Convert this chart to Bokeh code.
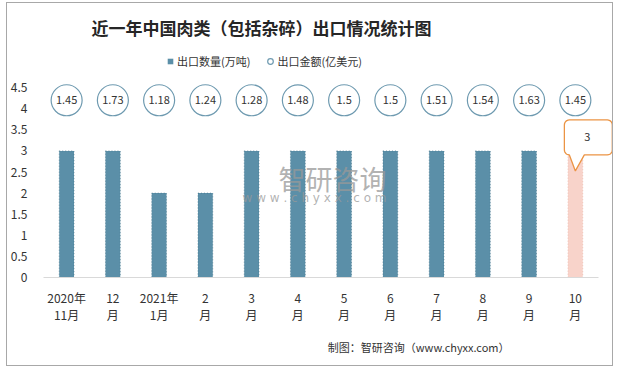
import math
from bokeh.plotting import figure
from bokeh.models import Range1d, FixedTicker, Label, Legend, LegendItem, ColumnDataSource, Title
from bokeh.embed import file_html
from bokeh.resources import INLINE
from bokeh.core.properties import value

# ---- data ----
months = ["2020年\n11月", "12\n月", "2021年\n1月", "2\n月", "3\n月", "4\n月",
          "5\n月", "6\n月", "7\n月", "8\n月", "9\n月", "10\n月"]
volume = [3, 3, 2, 2, 3, 3, 3, 3, 3, 3, 3, 3]          # 出口数量(万吨)
amount = [1.45, 1.73, 1.18, 1.24, 1.28, 1.48, 1.5, 1.5, 1.51, 1.54, 1.63, 1.45]  # 出口金额(亿美元)
yticks = [0, 0.5, 1, 1.5, 2, 2.5, 3, 3.5, 4, 4.5]

title_text = "近一年中国肉类（包括杂碎）出口情况统计图"
legend_bar = "出口数量(万吨)"
legend_amt = "出口金额(亿美元)"
source_text = "制图：智研咨询（www.chyxx.com）"

# ---- styling ----
BLUE = "#5B8FA8"
BLUE_EDGE = "#3f6f86"
PINK = "#F8D3CA"
PINK_EDGE = "#e9b0a2"
ORANGE = "#EB9444"
RING = "#6E9AB0"
FONT = "Noto Sans CJK SC"
TXT = "#333333"

n = len(months)
xs = list(range(n))
colors = [BLUE] * (n - 1) + [PINK]
edges = [BLUE_EDGE] * (n - 1) + [PINK_EDGE]
AMT_LEVEL = 4.2  # row on which the amount bubbles sit

FRAME_W, FRAME_H = 570, 274
PX_X = 46.33
PX_Y = 42.2
X_END = -0.5 + FRAME_W / PX_X
Y_END = FRAME_H / PX_Y   # frame reaches the top of the canvas (room for title/legend)

src = ColumnDataSource(dict(x=xs, volume=volume, color=colors, edge=edges,
                            lvl=[AMT_LEVEL] * n, amt=[str(a) for a in amount]))

p = figure(width=605, height=362, x_range=Range1d(-0.5, X_END), y_range=Range1d(0, Y_END),
           output_backend="svg", toolbar_location=None, title_location=None,
           min_border_left=35, min_border_right=0, min_border_top=0, min_border_bottom=88)
p.outline_line_color = None
p.xgrid.visible = False
p.ygrid.visible = False
p.styles = {"margin-left": "7px", "margin-top": "3px", "outline": "1px solid #a8a8a8"}

bars = p.vbar(x="x", top="volume", width=0.32, source=src, fill_color="color",
              line_color="edge", line_alpha=0.6, line_width=1, line_dash="1 2")

circ = p.scatter(x="x", y="lvl", source=src, size=31, marker="circle",
                 fill_color="white", line_color=RING, line_width=1.2)
p.text(x="x", y="lvl", text="amt", source=src, text_align="center", text_baseline="middle",
       text_font=value(FONT), text_font_size="11px", text_color=TXT)

# callout on the last bar (pixel offsets relative to the bar top, y down)
def callout():
    L, R, T, B, r = -11, 37, -31, 4, 5
    out = []
    def arc(cx, cy, a0, a1):
        for k in range(7):
            a = math.radians(a0 + (a1 - a0) * k / 6)
            out.append((cx + r * math.cos(a), cy + r * math.sin(a)))
    arc(L + r, T + r, 180, 270)
    arc(R - r, T + r, 270, 360)
    arc(R - r, B - r, 0, 90)
    out.extend([(9, B), (0, 20), (-6, B)])
    arc(L + r, B - r, 90, 180)
    return out
lx, lv = xs[-1], volume[-1]
poly = callout()
p.patch([lx + dx / PX_X for dx, dy in poly], [lv - dy / PX_Y for dx, dy in poly],
        fill_color="white", line_color=ORANGE, line_width=1.3)
p.text(x=[lx + 12 / PX_X], y=[lv + 13.5 / PX_Y], text=[str(volume[-1])], text_align="center",
       text_baseline="middle", text_font=value(FONT), text_font_size="11px", text_color=TXT)

# axes
p.xaxis.ticker = FixedTicker(ticks=xs)
p.xaxis.major_label_overrides = {i: m for i, m in zip(xs, months)}
p.xaxis.bounds = (-0.5, n - 0.5)
p.xaxis.axis_line_color = "#D9D9D9"
p.xaxis.major_tick_line_color = None
p.xaxis.minor_tick_line_color = None
p.xaxis.major_label_standoff = 5
p.xaxis.major_label_text_font = FONT
p.xaxis.major_label_text_font_size = "12px"
p.xaxis.major_label_text_color = TXT
p.xaxis.major_label_text_line_height = 1.05

p.yaxis.ticker = FixedTicker(ticks=yticks)
p.yaxis.major_label_overrides = {t: ("%g" % t) for t in yticks}
p.yaxis.axis_line_color = None
p.yaxis.major_tick_line_color = None
p.yaxis.minor_tick_line_color = None
p.yaxis.major_label_standoff = 10
p.yaxis.major_label_text_font = FONT
p.yaxis.major_label_text_font_size = "12px"
p.yaxis.major_label_text_color = TXT

# legend swatch proxy for the bars (zero-size markers: only the legend swatch shows)
sq = p.scatter(x="x", y="volume", source=src, marker="square", size=0,
               fill_color=BLUE, line_color=None)
leg = Legend(items=[LegendItem(label=legend_bar, renderers=[sq]),
                    LegendItem(label=legend_amt, renderers=[circ])],
             location=(120, 208), orientation="horizontal", glyph_width=14, glyph_height=14,
             label_standoff=0, spacing=13, padding=0, margin=0, border_line_color=None,
             background_fill_alpha=0, label_text_font=FONT, label_text_font_size="11px",
             label_text_color=TXT, label_height=14)
p.add_layout(leg)

# title
p.add_layout(Label(x=48, y=250, x_units="screen", y_units="screen", text=title_text,
                   text_align="left", text_baseline="middle", text_font=FONT,
                   text_font_size="17px", text_font_style="bold", text_color="#262626"))

# source note
p.add_layout(Title(text=source_text, align="right", offset=103, text_font=FONT,
                   text_font_size="11px", text_font_style="normal", text_color=TXT,
                   standoff=20), "below")

# watermark
p.add_layout(Label(x=289, y=99, x_units="screen", y_units="screen", text="智研咨询",
                   text_align="center", text_baseline="middle", text_font=FONT,
                   text_font_size="27px", text_color="#999999", text_alpha=0.75))
p.add_layout(Label(x=199, y=80, x_units="screen", y_units="screen",
                   text="w w w . c h y x x . c o m", text_align="left", text_baseline="middle",
                   text_font="DejaVu Sans", text_font_size="12px", text_color="#999999",
                   text_alpha=0.75))

open("out.html", "w").write(file_html(p, INLINE))
